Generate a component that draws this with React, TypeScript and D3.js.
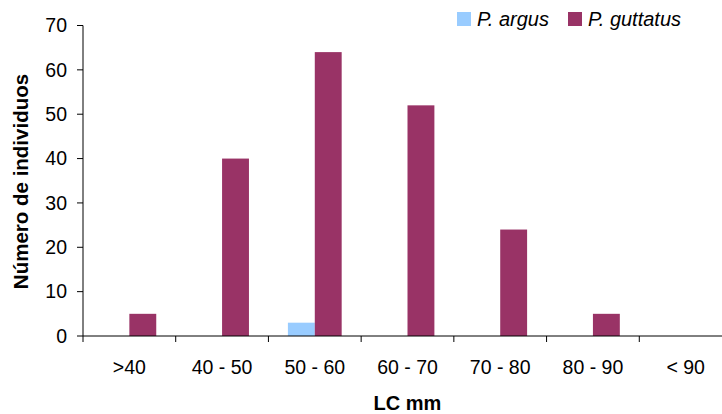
import React, { useEffect, useRef } from 'react';
import * as d3 from 'd3';

const categories = ['>40', '40 - 50', '50 - 60', '60 - 70', '70 - 80', '80 - 90', '< 90'];
const argus = [0, 0, 3, 0, 0, 0, 0];
const guttatus = [5, 40, 64, 52, 24, 5, 0];
const yTicks = [0, 10, 20, 30, 40, 50, 60, 70];
const seriesNames = ['P. argus', 'P. guttatus'];
const seriesColors = ['#99ccff', '#993366'];

const App: React.FC = () => {
  const ref = useRef<SVGSVGElement>(null);

  useEffect(() => {
    if (!ref.current) return;
    const width = 722;
    const height = 414;
    const svg = d3.select(ref.current);
    svg.selectAll('*').remove();
    svg.attr('width', width).attr('height', height);

    const font = 'Liberation Sans, Arial, sans-serif';
    const left = 83;
    const right = 732;
    const top = 25.5;
    const bottom = 336;

    const x = d3.scaleBand<string>().domain(categories).range([left, right]);
    const y = d3.scaleLinear().domain([0, 70]).range([bottom, top]);
    const bw = x.bandwidth() * 0.29;

    // y axis
    svg.append('line')
      .attr('x1', left).attr('x2', left)
      .attr('y1', top).attr('y2', bottom)
      .attr('stroke', '#000').attr('stroke-width', 1);
    yTicks.forEach(t => {
      svg.append('line')
        .attr('x1', left - 6).attr('x2', left)
        .attr('y1', y(t)).attr('y2', y(t))
        .attr('stroke', '#000');
      svg.append('text')
        .attr('x', left - 16).attr('y', y(t) + 6.8)
        .attr('text-anchor', 'end')
        .attr('font-family', font).attr('font-size', 19.5)
        .text(t);
    });

    // bars
    const series = [argus, guttatus];
    series.forEach((vals, si) => {
      svg.append('g').selectAll('rect')
        .data(vals)
        .join('rect')
        .attr('x', (_d, i) => (x(categories[i]) as number) + x.bandwidth() / 2 + (si - 1) * bw)
        .attr('y', d => y(d))
        .attr('width', bw)
        .attr('height', d => bottom - y(d))
        .attr('fill', seriesColors[si]);
    });

    // x axis
    svg.append('line')
      .attr('x1', left).attr('x2', right)
      .attr('y1', bottom).attr('y2', bottom)
      .attr('stroke', '#000');
    categories.forEach((c, i) => {
      const x0 = x(c) as number;
      svg.append('line')
        .attr('x1', x0).attr('x2', x0)
        .attr('y1', bottom).attr('y2', bottom + 6)
        .attr('stroke', '#000');
      svg.append('text')
        .attr('x', x0 + x.bandwidth() / 2).attr('y', 374)
        .attr('text-anchor', 'middle')
        .attr('font-family', font).attr('font-size', 19.5)
        .text(c);
    });

    // axis titles
    svg.append('text')
      .attr('x', (left + right) / 2).attr('y', 410)
      .attr('text-anchor', 'middle')
      .attr('font-family', font).attr('font-size', 20).attr('font-weight', 'bold')
      .text('LC mm');
    svg.append('text')
      .attr('transform', `translate(28,181.5) rotate(-90)`)
      .attr('text-anchor', 'middle')
      .attr('font-family', font).attr('font-size', 20.5).attr('font-weight', 'bold')
      .text('Número de individuos');

    // legend
    const legendX = [457, 568];
    seriesNames.forEach((n, i) => {
      svg.append('rect')
        .attr('x', legendX[i]).attr('y', 12)
        .attr('width', 14).attr('height', 14)
        .attr('fill', seriesColors[i]);
      svg.append('text')
        .attr('x', legendX[i] + 20).attr('y', 25.5)
        .attr('font-family', font).attr('font-size', 20).attr('font-style', 'italic')
        .text(n);
    });
  }, []);

  return <svg ref={ref} style={{ position: 'absolute', left: 0, top: 0 }}></svg>;
};

export default App;
